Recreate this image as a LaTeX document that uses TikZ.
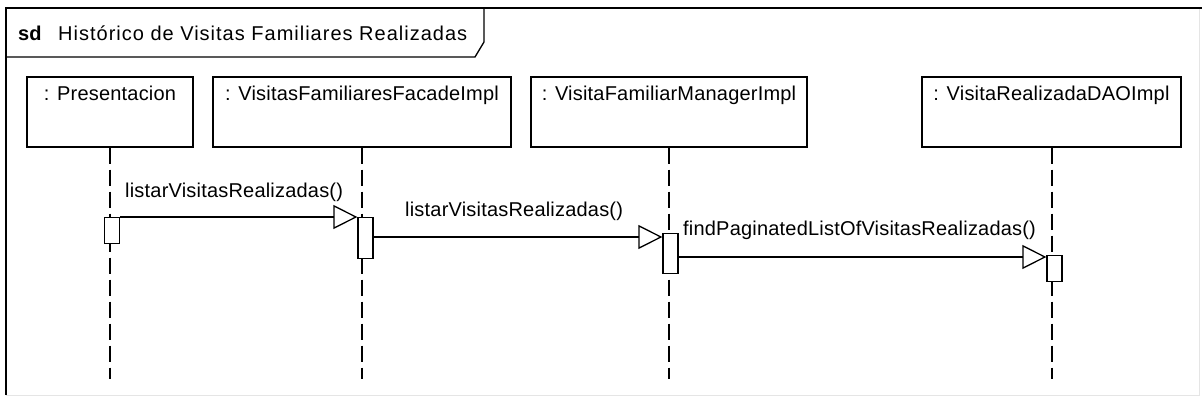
\documentclass[tikz,border=0pt]{standalone}
\usepackage{fontspec}
\setmainfont{Liberation Sans}[LetterSpace=1]
\usetikzlibrary{arrows.meta}
\begin{document}
\begin{tikzpicture}[x=1pt,y=-1pt,
  every node/.style={font=\fontsize{20}{23}\selectfont},
  frameline/.style={line width=1.3pt},
  lbox/.style={draw, line width=1.3pt, rectangle, inner sep=0pt, minimum height=70pt},
  lbtext/.style={anchor=base, inner sep=0pt},
  lifeline/.style={line width=1.3pt, dash pattern=on 16pt off 6pt},
  act/.style={draw, line width=1.3pt, fill=white, rectangle, inner sep=0pt, minimum width=15pt, anchor=north},
  msg/.style={line width=1.3pt, -{Triangle[open, length=24pt, width=24pt, line width=1.3pt]}},
  msgtext/.style={anchor=base west, inner sep=0pt}
]
\useasboundingbox (0,0) rectangle (1202,401);
% frame
\draw[black!10, line width=1pt] (1199,8) -- (1199,395) -- (6,395);
\draw[frameline] (6,395) -- (6,8) -- (1202,8);
\draw[frameline] (6,57) -- (475,57) -- (484,42) -- (484,8);
\node[anchor=base west, inner sep=0pt] (sd) at (18,41) {\textbf{sd}};
\node[anchor=base west, inner sep=0pt] (title) at (58,41) {\addfontfeature{LetterSpace=5}Histórico de Visitas Familiares Realizadas};
% lifeline boxes
\node[lbox, minimum width=166pt] (p) at (110,112) {};
\node[lbox, minimum width=298pt] (f) at (362,112) {};
\node[lbox, minimum width=276pt] (m) at (669,112) {};
\node[lbox, minimum width=259pt] (d) at (1051.5,112) {};
\node[lbtext] (pt) at (110,101) {: Presentacion};
\node[lbtext] (ft) at (362,101) {: VisitasFamiliaresFacadeImpl};
\node[lbtext] (mt) at (669,101) {: VisitaFamiliarManagerImpl};
\node[lbtext] (dt) at (1051.5,101) {: VisitaRealizadaDAOImpl};
% lifelines
\coordinate (pe) at (110,379);
\coordinate (fe) at (362,379);
\coordinate (me) at (669,379);
\coordinate (de) at (1052,379);
\draw[lifeline] (p.south) -- (pe);
\draw[lifeline] (f.south) -- (fe);
\draw[lifeline] (m.south) -- (me);
\draw[lifeline] (d.south -| de) -- (de);
% activations
\node[act, minimum height=26pt] (a1) at (112,217) {};
\node[act, minimum height=41pt] (a2) at (365.5,217) {};
\node[act, minimum height=40pt] (a3) at (670.5,233) {};
\node[act, minimum height=26pt] (a4) at (1054.5,255) {};
% messages
\draw[msg] (a1.north east) -- (a2.north west);
\draw[msg] (a2.east |- 0,237) -- (a3.west |- 0,237);
\draw[msg] (a3.east |- 0,257) -- (a4.west |- 0,257);
\node[msgtext] (l1) at (125,197) {listarVisitasRealizadas()};
\node[msgtext] (l2) at (405,216) {listarVisitasRealizadas()};
\node[msgtext] (l3) at (683,235) {findPaginatedListOfVisitasRealizadas()};
\end{tikzpicture}
\end{document}
